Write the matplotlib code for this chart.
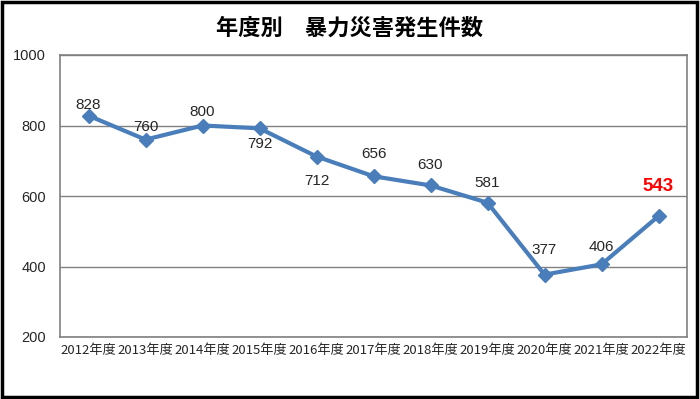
import matplotlib.pyplot as plt
from matplotlib.patches import Rectangle

plt.rcParams['font.family'] = ['Noto Sans CJK JP', 'DejaVu Sans']

years = ['2012年度', '2013年度', '2014年度', '2015年度', '2016年度', '2017年度',
         '2018年度', '2019年度', '2020年度', '2021年度', '2022年度']
counts = [828, 760, 800, 792, 712, 656, 630, 581, 377, 406, 543]
# label gap from the point in pixels; negative puts the label below
label_gap = [6, 8, 9, -10, -18, 18, 16, 15, 20, 13, 24]

fig = plt.figure(figsize=(7, 3.99), dpi=100)
ax = fig.add_axes([60 / 700, 62 / 399, 627 / 700, 282 / 399])

x = range(len(years))
ax.plot(x, counts, color='#4a7ebb', lw=3, marker='D', ms=7, zorder=3)

num_font = ['Liberation Sans', 'DejaVu Sans']
for i, (v, g) in enumerate(zip(counts, label_gap)):
    off = (g - 2.5) * 0.72 if g > 0 else (g + 1) * 0.72
    if i == len(counts) - 1:
        ax.annotate(str(v), (i, v), xytext=(0, off), textcoords='offset points',
                    ha='center', va='bottom', color='red', fontsize=13.5,
                    fontweight='bold', family=num_font)
    else:
        ax.annotate(str(v), (i, v), xytext=(0, off), textcoords='offset points',
                    ha='center', va='bottom' if g > 0 else 'top',
                    fontsize=11, color='#262626', family=num_font)

ax.set_xlim(-0.5, len(years) - 0.5)
ax.set_ylim(200, 1000)
ax.set_yticks([200, 400, 600, 800, 1000])
ax.set_xticks(list(x))
ax.set_xticklabels(years, fontsize=9.5)
for t in ax.get_yticklabels():
    t.set_family(num_font)
ax.tick_params(axis='y', labelsize=10.5, length=0, pad=10, labelcolor='#262626')
ax.tick_params(axis='x', length=0, pad=5, labelcolor='#262626')
ax.grid(axis='y', color='#808080', lw=1)
for sp in ax.spines.values():
    sp.set_color('#808080')
    sp.set_linewidth(1.2)

fig.text(0.5, 0.929, '年度別　暴力災害発生件数', ha='center', va='center',
         fontsize=16, fontweight='bold')

fig.patches.append(Rectangle((0.003, 0.004), 0.993, 0.99, transform=fig.transFigure,
                             fill=False, edgecolor='black', lw=2.5))

fig.savefig('out.png', dpi=100)
